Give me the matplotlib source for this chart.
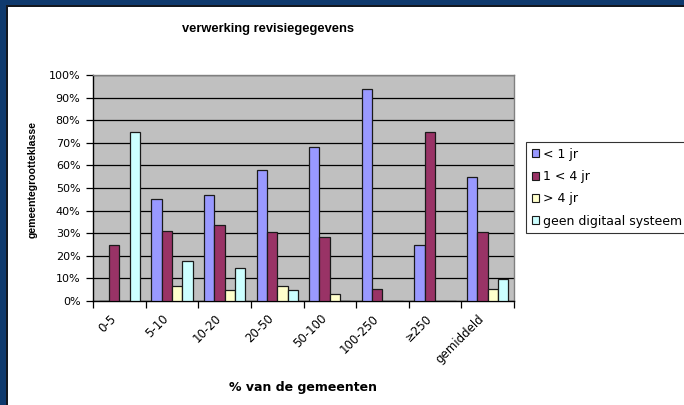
"""Grouped bar chart: verwerking revisiegegevens per gemeentegrootteklasse."""

import numpy as np
import matplotlib
matplotlib.use("Agg")
import matplotlib.pyplot as plt
from matplotlib.patches import Rectangle
from matplotlib.transforms import ScaledTranslation

# data (fractions)
categories = ["0-5", "5-10", "10-20", "20-50", "50-100", "100-250", "≥250", "gemiddeld"]
series_names = ["< 1 jr", "1 < 4 jr", "> 4 jr", "geen digitaal systeem"]
lt_1 = [0.0, 0.45, 0.47, 0.58, 0.68, 0.94, 0.25, 0.55]
jr_1_4 = [0.25, 0.31, 0.335, 0.305, 0.285, 0.055, 0.75, 0.305]
gt_4 = [0.0, 0.065, 0.047, 0.066, 0.032, 0.0, 0.0, 0.052]
geen = [0.75, 0.175, 0.145, 0.047, 0.0, 0.0, 0.0, 0.096]
colors = ["#9999FF", "#993366", "#FFFFCC", "#CCFFFF"]

W, H = 684, 405
fig = plt.figure(figsize=(W / 100, H / 100), dpi=100)
fig.patch.set_facecolor("white")

# dark blue slide border (top and left)
fig.add_artist(Rectangle((0, 1 - 5 / H), 1, 5 / H, transform=fig.transFigure,
                         facecolor="#0f3a6e", edgecolor="none", zorder=0))
fig.add_artist(Rectangle((0, 0), 6 / W, 1, transform=fig.transFigure,
                         facecolor="#0f3a6e", edgecolor="none", zorder=0))
fig.add_artist(Rectangle((6 / W, 0), 1.5 / W, 1 - 5 / H, transform=fig.transFigure,
                         facecolor="#14181f", edgecolor="none", zorder=0))
fig.add_artist(Rectangle((6 / W, 1 - 6.5 / H), 1, 1.5 / H, transform=fig.transFigure,
                         facecolor="#14181f", edgecolor="none", zorder=0))

ax = fig.add_axes([93 / W, 1 - 301 / H, (514 - 93) / W, (301 - 75) / H])
ax.set_facecolor("#C0C0C0")

x = np.arange(len(categories))
bw = 0.196
for i, (vals, name, col) in enumerate(zip([lt_1, jr_1_4, gt_4, geen], series_names, colors)):
    ax.bar(x + (i - 1.5) * bw, vals, width=bw, color=col, edgecolor="#1a1a1a",
           linewidth=0.9, label=name, zorder=3)

ax.set_xlim(-0.5, len(categories) - 0.5)
ax.set_ylim(0, 1.0)
yt = np.arange(0, 1.01, 0.1)
ax.set_yticks(yt)
ax.set_yticklabels([f"{int(round(v * 100))}%" for v in yt], fontsize=8)
ax.yaxis.grid(True, color="black", linewidth=0.9, zorder=1)
ax.set_axisbelow(True)

# ticks at category boundaries, labels at centres
ax.set_xticks(np.arange(-0.5, len(categories), 1.0))
ax.set_xticklabels([])
ax.set_xticks(x, minor=True)
ax.set_xticklabels(categories, minor=True, rotation=45, ha="right",
                   va="top", rotation_mode="anchor", fontsize=8.5)
ax.tick_params(axis="x", which="minor", length=0, pad=8)
ax.tick_params(axis="x", which="major", length=5, width=0.9, direction="out")
ax.tick_params(axis="y", length=5, width=0.9, direction="out", pad=4)
shift = ScaledTranslation(-10 / 100, 0, fig.dpi_scale_trans)
for lbl in ax.get_xticklabels(minor=True):
    lbl.set_transform(lbl.get_transform() + shift)

for s in ["left", "bottom"]:
    ax.spines[s].set_color("black")
    ax.spines[s].set_linewidth(1.0)
for s in ["top", "right"]:
    ax.spines[s].set_color("#808080")
    ax.spines[s].set_linewidth(1.0)

fig.text(268.5 / W, 1 - 29 / H, "verwerking revisiegegevens", ha="center", va="center",
         fontsize=9.3, fontweight="bold", family="Liberation Sans")
fig.text(303 / W, 1 - 388 / H, "% van de gemeenten", ha="center", va="center",
         fontsize=9, fontweight="bold")
fig.text(33 / W, 1 - 180 / H, "gemeentegrootteklasse", ha="center", va="center",
         rotation=90, fontsize=7.6, fontweight="bold", family="Liberation Sans")

leg = fig.legend(loc="upper left", bbox_to_anchor=(526 / W, 1 - 142 / H), fontsize=9,
                 frameon=True, fancybox=False, edgecolor="black", handlelength=0.6,
                 handleheight=0.6, handletextpad=0.3, labelspacing=0.75,
                 borderpad=0.45, borderaxespad=0)
leg.get_frame().set_linewidth(0.8)
for h in leg.legend_handles:
    h.set_linewidth(0.8)

fig.savefig("out.png", dpi=100)
